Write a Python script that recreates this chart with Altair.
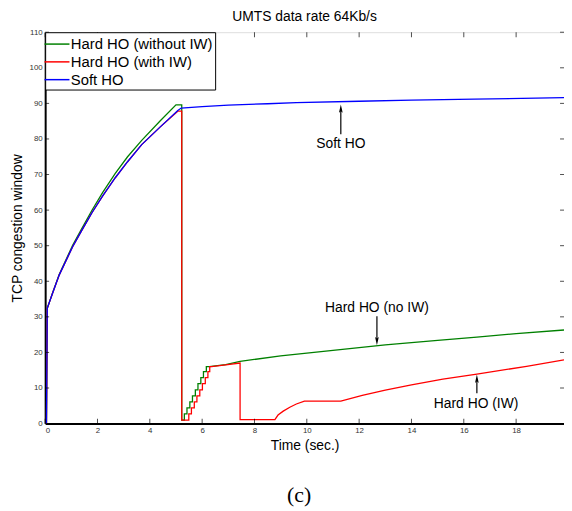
import altair as alt
import pandas as pd

# ---- data ----
series_names = ["Hard HO (without IW)", "Hard HO (with IW)", "Soft HO"]
series_colors = ["#008000", "#ff0000", "#0000ff"]

# Soft HO
soft_x = [0.0, 0.05, 0.08, 0.3, 0.54, 1.05, 1.4, 1.80, 2.2, 2.68, 3.15, 3.69, 4.4, 5.07, 5.20,
          6.0, 7.0, 8.5, 9.6, 12.0, 14.0, 16.4, 19.83]
soft_y = [0.0, 0.0, 32.4, 37.0, 41.8, 49.7, 54.3, 59.4, 64.0, 69.1, 73.6, 78.4, 83.4, 88.0, 88.7,
          89.1, 89.5, 89.9, 90.2, 90.6, 90.9, 91.2, 91.6]

# Hard HO without IW: rise, drop, staircase, slow growth
green_rise_x = [0.0, 0.05, 0.08, 0.3, 0.54, 1.05, 1.4, 1.80, 2.2, 2.68, 3.15, 3.69, 4.4, 5.0, 5.22, 5.22, 5.32]
green_rise_y = [0.0, 0.0, 32.4, 37.1, 42.0, 50.1, 54.8, 60.1, 65.0, 70.3, 75.0, 79.6, 85.1, 89.6, 89.6, 1.0, 1.0]
green_step_x = [5.32, 5.42, 5.53, 5.63, 5.74, 5.84, 5.95, 6.05, 6.16, 6.27]
green_step_y = [2.7, 4.4, 6.1, 7.8, 9.5, 11.2, 12.9, 14.6, 16.0, 16.0]
green_tail_x = [6.9, 7.45, 9.0, 11.0, 13.0, 15.0, 16.5, 18.0, 19.83]
green_tail_y = [16.6, 17.5, 19.0, 20.6, 22.1, 23.4, 24.3, 25.3, 26.3]

# Hard HO with IW
red_rise_x = [0.0, 0.05, 0.08, 0.3, 0.54, 1.05, 1.4, 1.80, 2.2, 2.68, 3.15, 3.69, 4.4, 5.07, 5.22, 5.22, 5.49]
red_rise_y = [0.0, 0.0, 32.4, 37.0, 41.8, 49.7, 54.3, 59.4, 64.0, 69.1, 73.6, 78.4, 83.4, 87.8, 87.8, 1.0, 1.0]
red_step_x = [5.49, 5.59, 5.70, 5.80, 5.91, 6.01, 6.12, 6.22, 6.29, 6.36]
red_step_y = [2.7, 4.4, 6.1, 7.8, 9.5, 11.2, 12.9, 14.6, 16.0, 16.0]
red_tail_x = [6.9, 7.45, 7.45, 8.78, 8.9, 9.1, 9.35, 9.6, 9.91, 11.3, 12.12, 13.0, 14.0, 15.2, 16.5, 18.4, 19.83]
red_tail_y = [16.5, 17.0, 1.1, 1.1, 2.4, 3.5, 4.6, 5.5, 6.3, 6.3, 7.9, 9.4, 10.9, 12.5, 13.9, 16.1, 17.9]

x_ticks = [0, 2, 4, 6, 8, 10, 12, 14, 16, 18]
y_ticks = [0, 10, 20, 30, 40, 50, 60, 70, 80, 90, 100, 110]

annotations = [
    {"label": "Soft HO", "x": 11.3, "y": 78.6},
    {"label": "Hard HO (no IW)", "x": 12.68, "y": 32.6},
    {"label": "Hard HO (IW)", "x": 16.47, "y": 5.4},
]
arrows = [
    {"x": 11.3, "y": 81.3, "y2": 88.5, "dir": "up"},
    {"x": 12.68, "y": 30.2, "y2": 23.2, "dir": "down"},
    {"x": 16.5, "y": 8.5, "y2": 12.6, "dir": "up"},
]


def stairs(xs, ys):
    """vertices of a staircase: vertical rise at each x, then flat to next x"""
    px, py = [], []
    for i, (x, y) in enumerate(zip(xs, ys)):
        px.append(x)
        py.append(y)
        if i + 1 < len(xs):
            px.append(xs[i + 1])
            py.append(y)
    return px, py


rows = []


def add(name, xs, ys):
    for x, y in zip(xs, ys):
        rows.append({"series": name, "x": x, "y": y, "order": len(rows)})


gsx, gsy = stairs(green_step_x, green_step_y)
rsx, rsy = stairs(red_step_x, red_step_y)
add(series_names[0], green_rise_x + gsx + green_tail_x, green_rise_y + gsy + green_tail_y)
add(series_names[1], red_rise_x + rsx + red_tail_x, red_rise_y + rsy + red_tail_y)
add(series_names[2], soft_x, soft_y)
df = pd.DataFrame(rows)

W, H = 525, 396
XD = [0, 19.83]
YD = [0, 110]
FONT = "Liberation Sans"

xs = alt.Scale(domain=XD, nice=False, zero=False)
ys = alt.Scale(domain=YD, nice=False)

x_axis = alt.Axis(values=x_ticks, title="Time (sec.)", ticks=False, grid=False,
                  labelFontSize=8, labelColor="#333", labelPadding=3, labelOverlap=False,
                  titleFontSize=14, titleFontWeight="normal", titleFont=FONT,
                  titlePadding=4, titleColor="black",
                  domainColor="black", domainWidth=2, labelFont=FONT)
y_axis = alt.Axis(values=y_ticks, title="TCP congestion window", ticks=False, grid=False,
                  labelFontSize=8, labelColor="#333", labelPadding=3, labelOverlap=False,
                  titleFontSize=14, titleFontWeight="normal", titleFont=FONT,
                  titlePadding=5, titleColor="black",
                  domainColor="black", domainWidth=2, labelFont=FONT)


def X(field):
    return alt.X(field, scale=xs, axis=x_axis, title="Time (sec.)")


def Y(field):
    return alt.Y(field, scale=ys, axis=y_axis, title="TCP congestion window")


lines = alt.Chart(df).mark_line(strokeWidth=1.3, clip=True).encode(
    x=X("x:Q"),
    y=Y("y:Q"),
    color=alt.Color("series:N",
                    scale=alt.Scale(domain=series_names, range=series_colors),
                    sort=series_names,
                    legend=alt.Legend(title=None, orient="none", legendX=0, legendY=0,
                                      symbolType="M-1.4,0H1.4", symbolSize=324,
                                      symbolStrokeWidth=1.5, labelFontSize=15,
                                      labelFont=FONT, labelColor="black",
                                      rowPadding=0, padding=2, strokeColor="black",
                                      fillColor="white", labelOffset=4,
                                      labelLimit=300)),
    detail="series:N",
    order="order:Q",
)

tick_y_df = pd.DataFrame({"v": y_ticks})
tick_x_df = pd.DataFrame({"v": x_ticks})

left_ticks = alt.Chart(tick_y_df).mark_tick(orient="horizontal", size=4, thickness=1, color="black").encode(
    y=Y("v:Q"), x=alt.value(2))
right_ticks = alt.Chart(tick_y_df).mark_tick(orient="horizontal", size=4, thickness=1, color="black").encode(
    y=Y("v:Q"), x=alt.value(W - 2))
bottom_ticks = alt.Chart(tick_x_df).mark_tick(orient="vertical", size=5, thickness=1, color="black").encode(
    x=X("v:Q"), y=alt.value(H - 2.5))
top_ticks = alt.Chart(tick_x_df).mark_tick(orient="vertical", size=5, thickness=1, color="black").encode(
    x=X("v:Q"), y=alt.value(2.5))

ann_df = pd.DataFrame(annotations)
ann_text = alt.Chart(ann_df).mark_text(fontSize=14, font=FONT, color="black", baseline="middle").encode(
    x=X("x:Q"), y=Y("y:Q"), text="label:N")

arr_df = pd.DataFrame(arrows)
arr_shaft = alt.Chart(arr_df).mark_rule(color="black", strokeWidth=1.2).encode(
    x=X("x:Q"), y=Y("y:Q"), y2="y2:Q")
arr_up = alt.Chart(arr_df[arr_df["dir"] == "up"]).mark_point(
    shape="M0,-1L-0.45,1L0,0.6L0.45,1Z", size=70, filled=True, color="black", opacity=1
).encode(x=X("x:Q"), y=Y("y2:Q"))
arr_down = alt.Chart(arr_df[arr_df["dir"] == "down"]).mark_point(
    shape="M0,1L-0.45,-1L0,-0.6L0.45,-1Z", size=70, filled=True, color="black", opacity=1
).encode(x=X("x:Q"), y=Y("y2:Q"))

caption = alt.Chart(pd.DataFrame({"t": ["(c)"]})).mark_text(
    fontSize=22, font="Liberation Serif", color="black", baseline="middle").encode(
    x=alt.value(257), y=alt.value(468), text="t:N")

chart = alt.layer(
    lines, left_ticks, right_ticks, bottom_ticks, top_ticks,
    arr_shaft, arr_up, arr_down, ann_text, caption
).properties(
    width=W, height=H,
    title=alt.TitleParams("UMTS data rate 64Kb/s", fontSize=14, font=FONT,
                          fontWeight="normal", color="black", offset=4),
    autosize=alt.AutoSizeParams(type="none"),
    padding={"left": 37.6, "top": 21.5, "right": 0, "bottom": 90},
).configure_view(stroke="black", strokeWidth=1.5).configure(background="white")

chart.save("out.html", embed_options={"renderer": "svg", "actions": False})
